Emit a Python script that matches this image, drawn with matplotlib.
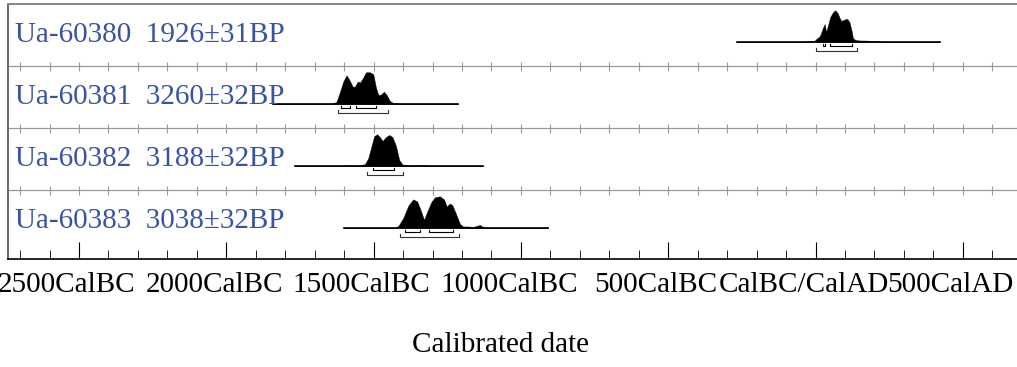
import numpy as np
import matplotlib
matplotlib.use("Agg")
import matplotlib.pyplot as plt
from matplotlib.transforms import ScaledTranslation, blended_transform_factory

# ---------------- data ----------------
names = ["Ua-60380", "Ua-60381", "Ua-60382", "Ua-60383"]
bp_labels = ["1926\u00b131BP", "3260\u00b132BP", "3188\u00b132BP", "3038\u00b132BP"]

# probability curves: calendar year (negative = BC) and relative height
p1_years = [-267, -60, -40, -20, -5, 3, 15, 25, 31, 36, 40, 50, 60, 67, 75, 82, 88, 95, 103, 108, 115, 122, 127, 135, 150, 170, 190, 210, 230, 250, 422]
p1_dens = [0, 0, 0.5, 0.8, 1, 3, 6, 14, 18, 10, 14, 25, 30, 31.7, 29, 24, 21, 22, 23, 23, 20, 12, 4, 2, 1.5, 1.5, 1, 0.7, 0.3, 0, 0]

p2_years = [-1842, -1660, -1642, -1626, -1614, -1603, -1592, -1583, -1571, -1563, -1554, -1546, -1535, -1526, -1512, -1501, -1492, -1484, -1476, -1465, -1456, -1445, -1434, -1411, -1380, -1214]
p2_dens = [0, 0, 0.5, 2, 12, 22, 28, 24, 17, 17, 22, 21, 26, 31, 31, 29, 16, 9, 9, 12, 9, 3, 1, 0.3, 0, 0]

p3_years = [-1767, -1620, -1603, -1590, -1570, -1546, -1529, -1518, -1507, -1498, -1488, -1476, -1470, -1458, -1447, -1436, -1424, -1413, -1402, -1377, -1332, -1298, -1130]
p3_dens = [0, 0, 0.3, 0.8, 0.4, 0.5, 2, 8, 20, 30, 31.7, 28, 25, 29, 31, 29, 20, 6, 1.5, 0.5, 0.8, 0, 0]

p4_years = [-1600, -1440, -1428, -1416, -1399, -1382, -1366, -1352, -1341, -1329, -1318, -1303, -1292, -1275, -1261, -1252, -1241, -1232, -1218, -1207, -1196, -1179, -1162, -1139, -1128, -1111, -1090, -908]
p4_dens = [0, 0, 0.3, 2, 10, 22, 28, 26, 18, 8, 16, 26, 30, 31, 28, 21, 24, 22, 12, 4, 1.5, 1.5, 1, 3, 0.8, 0.2, 0, 0]

curve_years = [p1_years, p2_years, p3_years, p4_years]
curve_dens = [p1_dens, p2_dens, p3_dens, p4_dens]

# highest posterior density ranges
r68 = [[(27, 33), (48, 125)],
       [(-1611, -1580), (-1560, -1492)],
       [(-1501, -1431)],
       [(-1394, -1343), (-1311, -1230)]]
r95 = [[(0, 141)],
       [(-1620, -1450)],
       [(-1522, -1400)],
       [(-1411, -1211)]]

major_ticks = [-2500, -2000, -1500, -1000, -500, 0, 500]
major_labels = ["2500CalBC", "2000CalBC", "1500CalBC", "1000CalBC", "500CalBC", "CalBC/CalAD", "500CalAD"]
minor_ticks = [y for y in range(-2700, 700, 100) if y % 500 != 0]

# ---------------- layout ----------------
W, H = 1017, 367
DPI = 100
plt.rcParams['font.family'] = ['Liberation Serif', 'DejaVu Serif']

fig = plt.figure(figsize=(W / DPI, H / DPI), dpi=DPI)
ax_left_px, ax_right_px, ax_top_px, ax_bot_px = 7.5, 1017, 4, 259
ax = fig.add_axes([ax_left_px / W, 1 - ax_bot_px / H,
                   (ax_right_px - ax_left_px) / W, (ax_bot_px - ax_top_px) / H])

px_per_year = 147.3 / 500.0
x0_px, x0_year = 79, -2500
ax.set_xlim(x0_year - (x0_px - ax_left_px) / px_per_year,
            x0_year + (ax_right_px - x0_px) / px_per_year)
ax.set_ylim(ax_bot_px - ax_top_px, 0)

row_h = 62
base_off = 38
peak_px = 31.7
blue = '#3953a4'

for sp in ['right']:
    ax.spines[sp].set_visible(False)
ax.spines['top'].set_color('#858585')
ax.spines['top'].set_linewidth(1.4)
ax.spines['left'].set_color('#6a6a6a')
ax.spines['left'].set_linewidth(1.4)
ax.spines['bottom'].set_color('black')
ax.spines['bottom'].set_linewidth(1.2)

ax.set_yticks([])
ax.set_xticks(major_ticks)
ax.set_xticks(minor_ticks, minor=True)
ax.set_xticklabels([])
ax.tick_params(axis='x', which='major', direction='in', length=12.5, width=0.8, color='black')
ax.tick_params(axis='x', which='minor', direction='in', length=6.2, width=0.7, color='#222222')

# separators
all_ticks = sorted(major_ticks + minor_ticks)
for i in range(1, len(names)):
    ysep = row_h * i
    ax.axhline(ysep, color='#9a9a9a', lw=0.9, zorder=1)
    ax.vlines(all_ticks, ysep - 4.5, ysep + 4.5, color='#9a9a9a', lw=0.8, zorder=1)

text_tr = blended_transform_factory(ax.transAxes, ax.transData)
for i in range(len(names)):
    base = row_h * i + base_off
    yrs = np.array(curve_years[i], dtype=float)
    d = np.array(curve_dens[i], dtype=float)
    h = d / d.max() * peak_px
    ax.fill_between(yrs, base, base - h, color='black', lw=0.3, zorder=3)
    ax.plot([yrs[0], yrs[-1]], [base, base], color='black', lw=1.2, zorder=3)
    for (a, b) in r68[i]:
        yb = base + 4
        ax.plot([a, a, b, b], [yb - 2.5, yb, yb, yb - 2.5], color='black', lw=0.8, zorder=3)
    for (a, b) in r95[i]:
        yb = base + 8.5
        ax.plot([a, a, b, b], [yb - 2.5, yb, yb, yb - 2.5], color='#333333', lw=0.8, zorder=3)
    ax.text(7.5 / (ax_right_px - ax_left_px), base, names[i] + "  " + bp_labels[i],
            transform=text_tr, color=blue, fontsize=21, va='baseline', ha='left', zorder=4)

# tick labels (shifted slightly left as in the reference)
lab_tr = blended_transform_factory(ax.transData, ax.transAxes) + ScaledTranslation(-12 / DPI, -13 / DPI, fig.dpi_scale_trans)
for t, lab in zip(major_ticks, major_labels):
    ax.text(t, 0, lab, transform=lab_tr, ha='center', va='top', fontsize=21, color='black', clip_on=False)

fig.text(500 / W, 1 - 345 / H, "Calibrated date", ha='center', va='center', fontsize=21, color='black')

fig.savefig("out.png", dpi=DPI)
